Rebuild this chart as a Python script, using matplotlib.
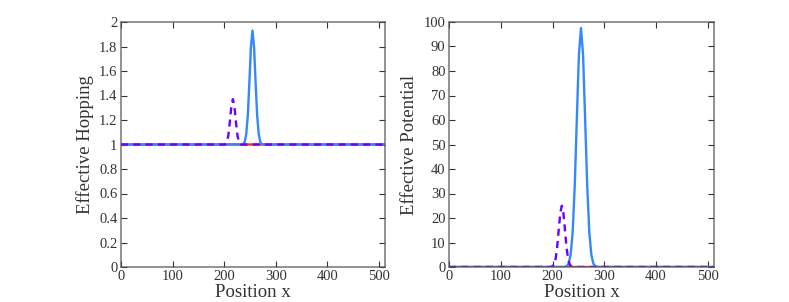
import matplotlib
matplotlib.use("Agg")
import matplotlib.pyplot as plt

# ---- data ----
red_x = [0, 512]
red_hop = [1.0, 1.0]
red_pot = [0.0, 0.0]

blue_hop_x = [0, 236, 240, 243, 246, 249, 252, 255, 258, 261, 264, 267, 270, 274, 512]
blue_hop_y = [1.0, 1.00, 1.02, 1.09, 1.24, 1.51, 1.80, 1.93, 1.80, 1.51, 1.24, 1.09, 1.02, 1.00, 1.0]

purple_hop_x = [0, 202, 205, 208, 211, 214, 217, 220, 223, 226, 229, 232, 512]
purple_hop_y = [1.0, 1.00, 1.02, 1.07, 1.18, 1.31, 1.37, 1.31, 1.18, 1.07, 1.02, 1.00, 1.0]

blue_pot_x = [0, 223, 227, 231, 235, 239, 243, 247, 251, 255, 259, 263, 267, 271, 275, 279, 283, 287, 512]
blue_pot_y = [0, 0, 0.3, 1.3, 5.0, 14.5, 33.4, 60.6, 86.6, 97.5, 86.6, 60.6, 33.4, 14.5, 5.0, 1.3, 0.3, 0, 0]

purple_pot_x = [0, 197, 200, 203, 206, 209, 212, 215, 218, 221, 224, 227, 230, 233, 236, 239, 512]
purple_pot_y = [0, 0, 0.3, 1.1, 3.4, 8.1, 15.2, 22.1, 25.0, 22.1, 15.2, 8.1, 3.4, 1.1, 0.3, 0, 0]

x_ticks = [0, 100, 200, 300, 400, 500]
hop_ticks = [0, 0.2, 0.4, 0.6, 0.8, 1, 1.2, 1.4, 1.6, 1.8, 2]
hop_labels = ["0", "0.2", "0.4", "0.6", "0.8", "1", "1.2", "1.4", "1.6", "1.8", "2"]
pot_ticks = [0, 10, 20, 30, 40, 50, 60, 70, 80, 90, 100]

RED = "#FF3300"
BLUE = "#3388FF"
PURPLE = "#6A00FF"

plt.rcParams['font.family'] = ['Liberation Serif', 'DejaVu Serif']
plt.rcParams['mathtext.fontset'] = 'stix'
plt.rcParams['path.snap'] = False

fig = plt.figure(figsize=(7.89, 3.02), dpi=100)
ax1 = fig.add_axes([121/789, 35/302, 264/789, 245/302])
ax2 = fig.add_axes([449/789, 35/302, 265/789, 245/302])

LW = 1.7
ax1.plot(red_x, red_hop, color=RED, lw=LW, snap=False)
ax1.plot(blue_hop_x, blue_hop_y, color=BLUE, lw=LW, snap=False)
ax1.plot(purple_hop_x, purple_hop_y, color=PURPLE, lw=LW, dashes=(3, 2.2), snap=False)

ax2.plot(red_x, red_pot, color=RED, lw=LW, snap=False)
ax2.plot(blue_pot_x, blue_pot_y, color=BLUE, lw=LW, snap=False)
ax2.plot(purple_pot_x, purple_pot_y, color=PURPLE, lw=LW, dashes=(3, 2.2), snap=False)

for ax in (ax1, ax2):
    ax.set_xlim(0, 512)
    ax.set_xticks(x_ticks)
    ax.tick_params(direction='in', top=True, right=True, labelsize=10.5,
                   colors='#333333', length=4, width=0.8, pad=2.5)
    for s in ax.spines.values():
        s.set_color('#555555')
        s.set_linewidth(0.9)
    ax.set_xlabel("Position x", fontsize=13.5, color='#333333', labelpad=0.5)

ax1.set_ylim(0, 2)
ax1.set_yticks(hop_ticks)
ax1.set_yticklabels(hop_labels)
ax1.set_ylabel("Effective Hopping", fontsize=13.5, color='#333333', labelpad=4)

ax2.set_ylim(0, 100)
ax2.set_yticks(pot_ticks)
ax2.set_ylabel("Effective Potential", fontsize=13.5, color='#333333', labelpad=4)

fig.savefig("out.png", dpi=100)
